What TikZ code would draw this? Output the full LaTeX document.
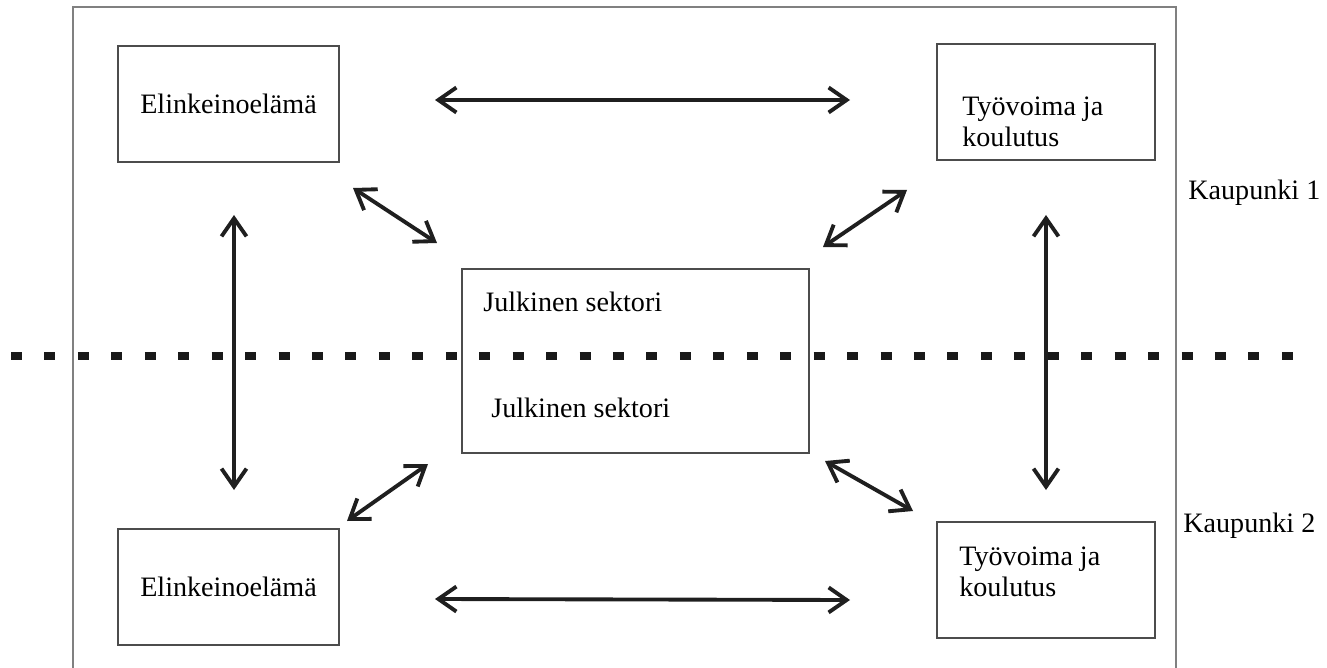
\documentclass[tikz,border=0pt]{standalone}
\usepackage{fontspec}
\setmainfont{Liberation Serif}
\usetikzlibrary{positioning, arrows.meta}

\begin{document}
\begin{tikzpicture}[x=0.02cm, y=-0.02cm,
                box/.style={draw=black!70, line width=0.9pt, minimum width=4.4cm, minimum height=2.32cm, inner sep=0pt},
                txt/.style={inner sep=0pt, align=left, font=\fontsize{16}{17.5}\selectfont},
                link/.style={line width=2.2pt, draw=black!88, {Straight Barb[length=0.36cm, width=0.5cm, line width=2.2pt]}-{Straight Barb[length=0.36cm, width=0.5cm, line width=2.2pt]}}]
                \useasboundingbox (0, 0) rectangle (1327, 668);

                \draw[draw=black!50, line width=1.1pt] (73, 668) -- (73, 7) -- (1176, 7) -- (1176, 668);
                \draw[draw=black!90, line width=4pt, dash pattern=on 0.22cm off 0.449cm] (11, 356) -- (1296, 356);

                \node[box, minimum width=4.42cm] (e1) at (228.5, 104) {};
                \node[box, minimum width=4.36cm] (t1) at (1046, 102) {};
                \node[box, minimum width=6.94cm, minimum height=3.68cm] (j) at (635.5, 361) {};
                \node[box, minimum width=4.42cm] (e2) at (228.5, 587) {};
                \node[box, minimum width=4.36cm] (t2) at (1046, 580) {};

                \node[txt] (e1t) at (e1) {Elinkeinoelämä};
                \node[txt, anchor=west] (t1t) at (962, 122) {Työvoima ja\\koulutus};
                \node[txt, anchor=west] (j1t) at (483, 302) {Julkinen sektori};
                \node[txt, anchor=west] (j2t) at (491, 408) {Julkinen sektori};
                \node[txt] (e2t) at (e2) {Elinkeinoelämä};
                \node[txt, anchor=west] (t2t) at (959, 572) {Työvoima ja\\koulutus};

                \node[txt, anchor=west] (k1) at (1188, 193) {Kaupunki 1};
                \node[txt, anchor=west] (k2) at (1183, 526) {Kaupunki 2};

                \coordinate (h1a) at (435, 100);
                \coordinate (h1b) at (850, 100);
                \coordinate (h2a) at (435, 599);
                \coordinate (h2b) at (850, 600);
                \coordinate (v1a) at (234, 215);
                \coordinate (v1b) at (234, 490);
                \coordinate (v2a) at (1046, 215);
                \coordinate (v2b) at (1046, 490);
                \coordinate (d1a) at (353, 188);
                \coordinate (d1b) at (437, 243);
                \coordinate (d2a) at (907, 190);
                \coordinate (d2b) at (823, 247);
                \coordinate (d3a) at (428, 464);
                \coordinate (d3b) at (347, 521);
                \coordinate (d4a) at (825, 461);
                \coordinate (d4b) at (913, 511);

                \draw[link] (h1a) -- (h1b);
                \draw[link] (h2a) -- (h2b);
                \draw[link] (v1a) -- (v1b);
                \draw[link] (v2a) -- (v2b);
                \draw[link] (d1a) -- (d1b);
                \draw[link] (d2a) -- (d2b);
                \draw[link] (d3a) -- (d3b);
                \draw[link] (d4a) -- (d4b);
            \end{tikzpicture}
\end{document}
